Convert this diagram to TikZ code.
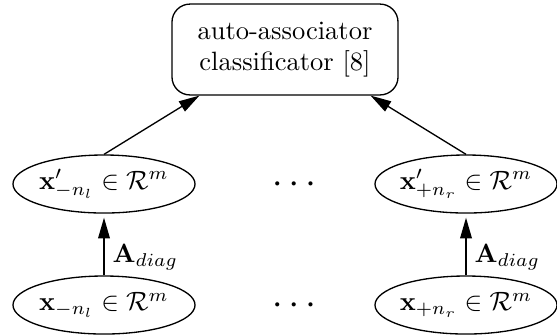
\documentclass[tikz,border=0pt]{standalone}
\usepackage{bm}
\usetikzlibrary{shapes.geometric,arrows.meta}
\begin{document}
\begin{tikzpicture}[x=0.3774pt,y=-0.3774pt,
  boxnode/.style={draw,rounded corners=6.8pt,minimum width=85.3pt,minimum height=34.3pt,inner sep=0pt,align=center,line width=0.5pt},
  ellnode/.style={draw,ellipse,minimum width=68.7pt,minimum height=21.9pt,inner sep=0pt,line width=0.5pt},
  dotsnode/.style={inner sep=0pt},
  conn/.style={line width=0.5pt,-{Triangle[length=7.8pt,width=4.4pt]}}]
\useasboundingbox (0,0) rectangle (557,335);
\node[boxnode] (cls) at (285,49.5) {auto-associator\\classificator [8]};
\node[ellnode] (tl) at (104,184) {\makebox[0pt]{$\mathbf{x}'_{-n_l}\in\mathcal{R}^m$}};
\node[ellnode] (tr) at (466,184) {\makebox[0pt]{$\mathbf{x}'_{+n_r}\in\mathcal{R}^m$}};
\node[ellnode] (bl) at (104,305) {\makebox[0pt]{$\mathbf{x}_{-n_l}\in\mathcal{R}^m$}};
\node[ellnode] (br) at (466,305) {\makebox[0pt]{$\mathbf{x}_{+n_r}\in\mathcal{R}^m$}};
\node[dotsnode] (dt) at (294,184) {$\bm{\cdot}\mkern1.5mu\bm{\cdot}\mkern1.5mu\bm{\cdot}$};
\node[dotsnode] (db) at (294,305) {$\bm{\cdot}\mkern1.5mu\bm{\cdot}\mkern1.5mu\bm{\cdot}$};
\draw[conn] (tl.north) -- ([xshift=10.6pt]cls.south west);
\draw[conn] (tr.north) -- ([xshift=-10.6pt]cls.south east);
\draw[conn,shorten >=1.5pt] (bl.north) -- (tl.south);
\draw[conn,shorten >=1.5pt] (br.north) -- (tr.south);
\node[anchor=west,inner sep=0pt] (al) at (112,257) {$\mathbf{A}_{diag}$};
\node[anchor=west,inner sep=0pt] (ar) at (474,257) {$\mathbf{A}_{diag}$};
\end{tikzpicture}
\end{document}
